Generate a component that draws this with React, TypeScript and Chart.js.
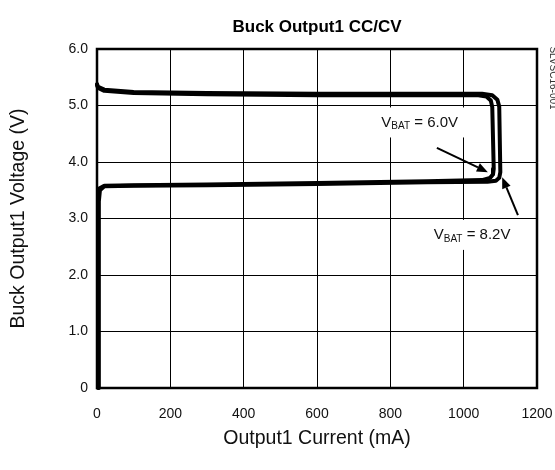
import React, { useEffect, useRef } from "react";
import { Chart, registerables } from "chart.js";

Chart.register(...registerables);

const TITLE = "Buck Output1 CC/CV";
const X_TITLE = "Output1 Current (mA)";
const Y_TITLE = "Buck Output1 Voltage (V)";
const DOC_ID = "SLVSC16-001";

const X_MIN = 0;
const X_MAX = 1200;
const X_STEP = 200;
const Y_MIN = 0;
const Y_MAX = 6;
const Y_STEP = 1;

// VBAT = 6.0V loop (inner)
const vbat60Current = [0, 3, 20, 100, 300, 600, 900, 1040, 1062, 1074, 1078, 1082, 1080, 1072, 1050, 900, 600, 300, 100, 20, 6, 3, 3];
const vbat60Voltage = [5.36, 5.31, 5.26, 5.22, 5.2, 5.18, 5.18, 5.18, 5.16, 5.09, 4.97, 3.88, 3.78, 3.72, 3.68, 3.66, 3.63, 3.6, 3.59, 3.58, 3.53, 3.3, 0];

// VBAT = 8.2V loop (outer)
const vbat82Current = [0, 3, 20, 100, 300, 600, 900, 1050, 1078, 1092, 1097, 1100, 1097, 1088, 1065, 900, 600, 300, 100, 20, 8, 5, 5];
const vbat82Voltage = [5.38, 5.33, 5.28, 5.24, 5.22, 5.21, 5.21, 5.21, 5.18, 5.1, 4.98, 3.82, 3.72, 3.67, 3.65, 3.64, 3.61, 3.59, 3.58, 3.57, 3.5, 3.3, 0];

// Annotations (data units)
const annLabelValue = ["6.0V", "8.2V"];
const annLabelX = [880, 1023];
const annLabelY = [4.7, 2.71];
const arrowFromX = [927, 1148];
const arrowFromY = [4.25, 3.06];
const arrowToX = [1066, 1105];
const arrowToY = [3.82, 3.73];

const FONT = "'Liberation Sans', Arial, Helvetica, sans-serif";

function toPoints(xs: number[], ys: number[]) {
  return xs.map((x, i) => ({ x, y: ys[i] }));
}

const overlayPlugin = {
  id: "overlay",
  beforeDatasetsDraw(chart: any) {
    const ctx = chart.ctx;
    const xs = chart.scales.x;
    const ys = chart.scales.y;
    ctx.save();
    for (let i = 0; i < annLabelValue.length; i++) {
      const cx = xs.getPixelForValue(annLabelX[i]);
      const cy = ys.getPixelForValue(annLabelY[i]);
      ctx.font = `15px ${FONT}`;
      const wV = ctx.measureText("V").width;
      ctx.font = `10px ${FONT}`;
      const wSub = ctx.measureText("BAT").width;
      ctx.font = `15px ${FONT}`;
      const rest = " = " + annLabelValue[i];
      const wRest = ctx.measureText(rest).width;
      const total = wV + wSub + wRest;
      const x0 = cx - total / 2;
      ctx.fillStyle = "#fff";
      ctx.fillRect(x0 - 8, cy - 15, total + 16, 30);
      ctx.fillStyle = "#111";
      ctx.textBaseline = "middle";
      ctx.textAlign = "left";
      ctx.font = `15px ${FONT}`;
      ctx.fillText("V", x0, cy);
      ctx.font = `10px ${FONT}`;
      ctx.fillText("BAT", x0 + wV, cy + 4);
      ctx.font = `15px ${FONT}`;
      ctx.fillText(rest, x0 + wV + wSub, cy);
    }
    const a = chart.chartArea;
    ctx.strokeStyle = "#000";
    ctx.lineWidth = 2.5;
    ctx.strokeRect(a.left, a.top, a.right - a.left, a.bottom - a.top);
    ctx.restore();
  },
  afterDatasetsDraw(chart: any) {
    const ctx = chart.ctx;
    const xs = chart.scales.x;
    const ys = chart.scales.y;
    ctx.save();
    ctx.strokeStyle = "#000";
    ctx.fillStyle = "#000";
    ctx.lineWidth = 2;
    for (let i = 0; i < arrowFromX.length; i++) {
      const x1 = xs.getPixelForValue(arrowFromX[i]);
      const y1 = ys.getPixelForValue(arrowFromY[i]);
      const x2 = xs.getPixelForValue(arrowToX[i]);
      const y2 = ys.getPixelForValue(arrowToY[i]);
      const ang = Math.atan2(y2 - y1, x2 - x1);
      const head = 11;
      const hw = 4.5;
      const bx = x2 - head * Math.cos(ang);
      const by = y2 - head * Math.sin(ang);
      ctx.beginPath();
      ctx.moveTo(x1, y1);
      ctx.lineTo(bx, by);
      ctx.stroke();
      ctx.beginPath();
      ctx.moveTo(x2, y2);
      ctx.lineTo(bx + hw * Math.sin(ang), by - hw * Math.cos(ang));
      ctx.lineTo(bx - hw * Math.sin(ang), by + hw * Math.cos(ang));
      ctx.closePath();
      ctx.fill();
    }
    ctx.restore();
  },
  afterDraw(chart: any) {
    const ctx = chart.ctx;
    const a = chart.chartArea;
    const midX = (a.left + a.right) / 2;
    const midY = (a.top + a.bottom) / 2;
    ctx.save();
    ctx.fillStyle = "#000";
    ctx.textAlign = "center";
    ctx.textBaseline = "middle";
    ctx.font = `bold 17px ${FONT}`;
    ctx.fillText(TITLE, midX, 27);
    ctx.fillStyle = "#111";
    ctx.font = `19.5px ${FONT}`;
    ctx.fillText(X_TITLE, midX, 439);
    ctx.save();
    ctx.translate(19, midY);
    ctx.rotate(-Math.PI / 2);
    ctx.fillText(Y_TITLE, 0, 0);
    ctx.restore();
    ctx.save();
    ctx.translate(553, 78);
    ctx.rotate(Math.PI / 2);
    ctx.font = `10px ${FONT}`;
    ctx.fillStyle = "#333";
    ctx.fillText(DOC_ID, 0, 0);
    ctx.restore();
    ctx.restore();
  },
};

export default function App() {
  const ref = useRef<HTMLCanvasElement | null>(null);
  useEffect(() => {
    if (!ref.current) return;
    const lineStyle = {
      showLine: true,
      borderColor: "#000",
      backgroundColor: "#000",
      borderWidth: 4,
      pointRadius: 0,
      tension: 0,
      borderJoinStyle: "round",
      borderCapStyle: "round",
      clip: 4,
    };
    const chart = new Chart(ref.current, {
      type: "scatter",
      data: {
        datasets: [
          { label: "VBAT = 6.0V", data: toPoints(vbat60Current, vbat60Voltage), ...lineStyle } as any,
          { label: "VBAT = 8.2V", data: toPoints(vbat82Current, vbat82Voltage), ...lineStyle } as any,
        ],
      },
      options: {
        animation: false,
        responsive: false,
        devicePixelRatio: 1,
        layout: { padding: { left: 0, top: 49, right: 18, bottom: 0 } },
        plugins: {
          legend: { display: false },
          tooltip: { enabled: false },
          title: { display: false },
        },
        scales: {
          x: {
            type: "linear",
            min: X_MIN,
            max: X_MAX,
            border: { display: false },
            grid: { color: "#000", lineWidth: 1, drawTicks: false },
            ticks: {
              stepSize: X_STEP,
              padding: 18,
              color: "#111",
              font: { family: FONT, size: 14 },
              maxRotation: 0,
              callback: (v: any) => String(v),
            },
            afterFit: (s: any) => {
              s.height = 82;
              s.paddingLeft = 0;
              s.paddingRight = 0;
            },
          },
          y: {
            type: "linear",
            min: Y_MIN,
            max: Y_MAX,
            border: { display: false },
            grid: { color: "#000", lineWidth: 1, drawTicks: false },
            ticks: {
              stepSize: Y_STEP,
              padding: 9,
              color: "#111",
              font: { family: FONT, size: 14 },
              callback: (v: any) => (Number(v) === 0 ? "0" : Number(v).toFixed(1)),
            },
            afterFit: (s: any) => {
              s.width = 97;
              s.paddingTop = 0;
              s.paddingBottom = 0;
            },
          },
        },
      },
      plugins: [overlayPlugin],
    });
    return () => chart.destroy();
  }, []);
  return (
    <div style={{ position: "absolute", left: 0, top: 0, width: 555, height: 470, background: "#fff" }}>
      <canvas ref={ref} width={555} height={470} style={{ width: 555, height: 470 }} />
    </div>
  );
}
